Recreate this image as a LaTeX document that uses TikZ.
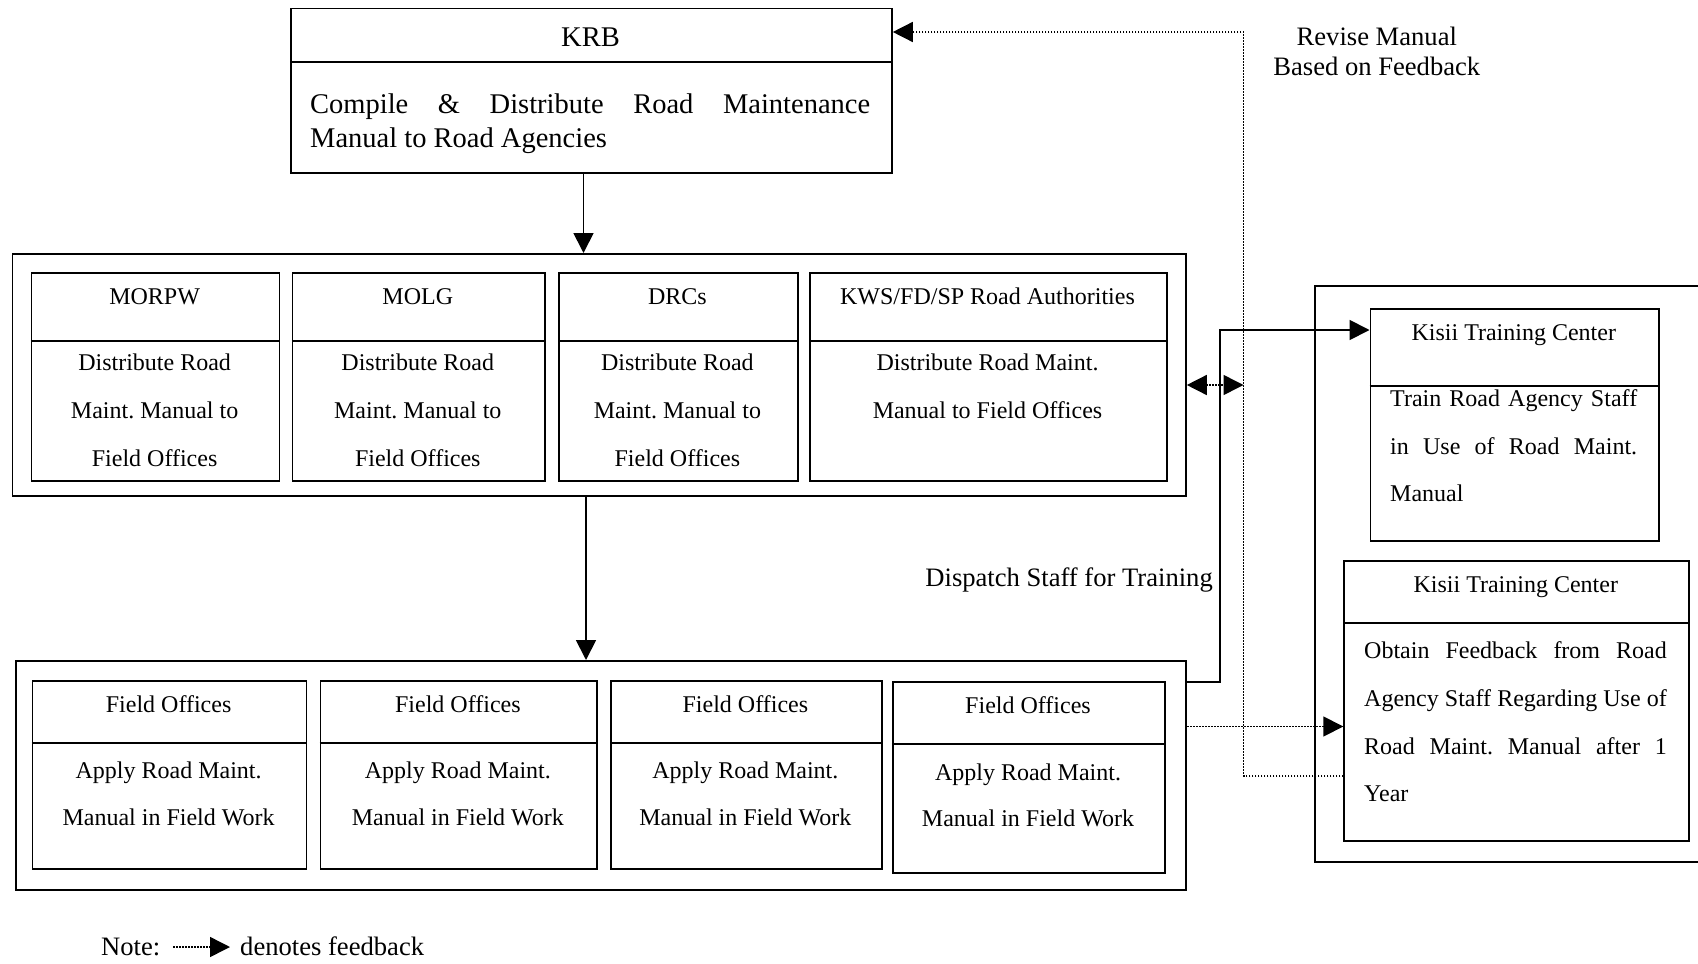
\documentclass[tikz,border=0pt]{standalone}
\usepackage{fontspec}
\setmainfont{Liberation Serif}
\usetikzlibrary{arrows.meta}
\frenchspacing
\begin{document}
\begin{tikzpicture}[x=1pt,y=-1pt,
  bx/.style={draw, line width=1.8pt, inner sep=0pt, anchor=north west},
  sol/.style={line width=1.8pt},
  dotl/.style={line width=1.5pt, dash pattern=on 1.5pt off 1.5pt},
  tip/.style={-{Triangle[length=20pt,width=20pt]}},
  dtip/.style={{Triangle[length=20pt,width=20pt]}-{Triangle[length=20pt,width=20pt]}},
  t24/.style={font=\fontsize{24}{28}\selectfont, inner sep=0pt, anchor=base},
  t28/.style={font=\fontsize{28.5}{32}\selectfont, inner sep=0pt, anchor=base},
  t26/.style={font=\fontsize{26.6}{30}\selectfont, inner sep=0pt, anchor=base}]
\useasboundingbox (0,0) rectangle (1698,964);

% ---------- KRB ----------
\node[bx, minimum width=601pt, minimum height=164.5pt] (krb) at (290,7.5) {};
\draw[sol] (290,62) -- (891,62);
\node[t28] (krbh) at (590.5,46) {KRB};
\node[t28, anchor=base west] (krb1) at (310,113) {\makebox[560pt][s]{Compile \& Distribute Road Maintenance}};
\node[t28, anchor=base west] (krb2) at (310,147) {Manual to Road Agencies};

% ---------- middle group ----------
\node[bx, minimum width=1173.5pt, minimum height=242pt] (mid) at (11.5,253) {};
\node[bx, minimum width=248pt, minimum height=208pt] (m1) at (30.6,272) {};
\node[bx, minimum width=252.4pt, minimum height=208pt] (m2) at (291.6,272) {};
\node[bx, minimum width=238.7pt, minimum height=208pt] (m3) at (558,272) {};
\node[bx, minimum width=357pt, minimum height=208pt] (m4) at (809,272) {};
\draw[sol] (30.6,341) -- (278.6,341);
\draw[sol] (291.6,341) -- (544,341);
\draw[sol] (558,341) -- (796.7,341);
\draw[sol] (809,341) -- (1166,341);

\node[t24] (m1h) at (154.6,304.5) {MORPW};
\node[t24] (m1a) at (154.6,370.5) {Distribute Road};
\node[t24] (m1b) at (154.6,418.5) {Maint. Manual to};
\node[t24] (m1c) at (154.6,466) {Field Offices};

\node[t24] (m2h) at (417.8,304.5) {MOLG};
\node[t24] (m2a) at (417.8,370.5) {Distribute Road};
\node[t24] (m2b) at (417.8,418.5) {Maint. Manual to};
\node[t24] (m2c) at (417.8,466) {Field Offices};

\node[t24] (m3h) at (677.4,304.5) {DRCs};
\node[t24] (m3a) at (677.4,370.5) {Distribute Road};
\node[t24] (m3b) at (677.4,418.5) {Maint. Manual to};
\node[t24] (m3c) at (677.4,466) {Field Offices};

\node[t24] (m4h) at (987.5,304.5) {KWS/FD/SP Road Authorities};
\node[t24] (m4a) at (987.5,370.5) {Distribute Road Maint.};
\node[t24] (m4b) at (987.5,418.5) {Manual to Field Offices};

% ---------- bottom group ----------
\node[bx, minimum width=1170.2pt, minimum height=229pt] (bot) at (15,660) {};
\node[bx, minimum width=274pt, minimum height=188.3pt] (b1) at (31.6,680) {};
\node[bx, minimum width=276.8pt, minimum height=188.3pt] (b2) at (319.5,680) {};
\node[bx, minimum width=270.7pt, minimum height=188.3pt] (b3) at (610,680) {};
\node[bx, minimum width=272.5pt, minimum height=190.7pt] (b4) at (891.8,681) {};
\draw[sol] (31.6,742.7) -- (305.6,742.7);
\draw[sol] (319.5,742.7) -- (596.3,742.7);
\draw[sol] (610,742.7) -- (880.7,742.7);
\draw[sol] (891.8,744.3) -- (1164.3,744.3);

\node[t24] (b1h) at (168.6,712.3) {Field Offices};
\node[t24] (b1a) at (168.6,778.5) {Apply Road Maint.};
\node[t24] (b1b) at (168.6,825) {Manual in Field Work};

\node[t24] (b2h) at (457.9,712.3) {Field Offices};
\node[t24] (b2a) at (457.9,778.5) {Apply Road Maint.};
\node[t24] (b2b) at (457.9,825) {Manual in Field Work};

\node[t24] (b3h) at (745.4,712.3) {Field Offices};
\node[t24] (b3a) at (745.4,778.5) {Apply Road Maint.};
\node[t24] (b3b) at (745.4,825) {Manual in Field Work};

\node[t24] (b4h) at (1028,713.8) {Field Offices};
\node[t24] (b4a) at (1028,780) {Apply Road Maint.};
\node[t24] (b4b) at (1028,826.5) {Manual in Field Work};

% ---------- right group ----------
\draw[sol] (1698,285.7) -- (1315.3,285.7) -- (1315.3,861.7) -- (1698,861.7);

\node[bx, minimum width=288.5pt, minimum height=231.7pt] (k1) at (1369.5,308.3) {};
\draw[sol] (1369.5,385.7) -- (1658,385.7);
\node[t24] (k1h) at (1513.8,340) {Kisii Training Center};
\node[t24, anchor=base west] (k1a) at (1390,406) {\makebox[247pt][s]{Train Road Agency Staff}};
\node[t24, anchor=base west] (k1b) at (1390,454) {\makebox[247pt][s]{in Use of Road Maint.}};
\node[t24, anchor=base west] (k1c) at (1390,501.7) {Manual};

\node[bx, minimum width=345pt, minimum height=280pt] (k2) at (1343.3,560) {};
\draw[sol] (1343.3,622.7) -- (1688.3,622.7);
\node[t24] (k2h) at (1515.8,592.3) {Kisii Training Center};
\node[t24, anchor=base west] (k2a) at (1364,658.3) {\makebox[302.6pt][s]{Obtain Feedback from Road}};
\node[t24, anchor=base west] (k2b) at (1364,706) {\makebox[302.6pt][s]{Agency Staff Regarding Use of}};
\node[t24, anchor=base west] (k2c) at (1364,754) {\makebox[302.6pt][s]{Road Maint. Manual after 1}};
\node[t24, anchor=base west] (k2d) at (1364,801.7) {Year};

% ---------- labels ----------
\node[t26] (rev1) at (1376.8,45) {Revise Manual};
\node[t26] (rev2) at (1376.8,75) {Based on Feedback};
\node[t26, anchor=base east] (disp) at (1213,586.7) {Dispatch Staff for Training};

% ---------- connectors ----------
\draw[sol,tip] (583.5,0 |- krb.south) -- (583.5,0 |- mid.north);
\draw[sol,tip] (586,0 |- mid.south) -- (586,0 |- bot.north);
\draw[sol,tip] (bot.east |- 0,682) -- (1220,682) -- (1220,330) -- (k1.west |- 0,330);
\draw[dotl,tip] (bot.east |- 0,726.5) -- (k2.west |- 0,726.5);
\draw[dotl,tip] (k2.west |- 0,776) -- (1243.5,776) -- (1243.5,32) -- (krb.east |- 0,32);
\draw[dotl,dtip] (mid.east |- 0,385) -- (1243.5,385);

% ---------- note ----------
\node[t26, anchor=base west] (note) at (101,955) {Note:};
\coordinate (ns) at (173,947);
\coordinate (ne) at (230,947);
\draw[dotl,tip] (ns) -- (ne);
\node[t26, anchor=base west] (den) at (240,955) {denotes feedback};
\end{tikzpicture}
\end{document}
